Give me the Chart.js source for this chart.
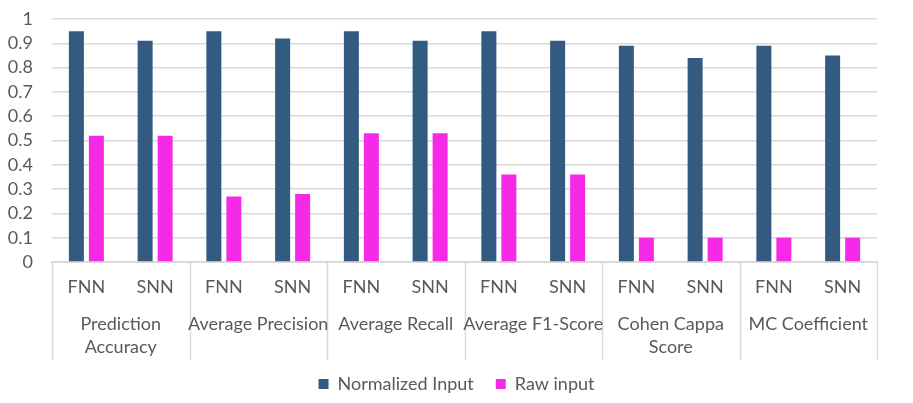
<!DOCTYPE html>
<html>
<head>
<meta charset="utf-8">
<script src="https://cdn.jsdelivr.net/npm/chart.js@4.4.1/dist/chart.umd.min.js"></script>
<style>
  html, body { margin: 0; padding: 0; background: #fff; }
  #wrap { width: 913px; height: 403px; }
</style>
</head>
<body>
<div id="wrap"><canvas id="chart" width="913" height="403"></canvas></div>
<script>
// grupos de métricas (cada uma com FNN e SNN)
const groupLabels = [
  ['Prediction', 'Accuracy'],
  ['Average Precision'],
  ['Average Recall'],
  ['Average F1-Score'],
  ['Cohen Cappa', 'Score'],
  ['MC Coefficient']
];
const models = ['FNN', 'SNN'];
const normalizedInput = [0.95, 0.91, 0.95, 0.92, 0.95, 0.91, 0.95, 0.91, 0.89, 0.84, 0.89, 0.85];
const rawInput = [0.52, 0.52, 0.27, 0.28, 0.53, 0.53, 0.36, 0.36, 0.10, 0.10, 0.10, 0.10];
const yTicks = [0, 0.1, 0.2, 0.3, 0.4, 0.5, 0.6, 0.7, 0.8, 0.9, 1];

const labels = [];
groupLabels.forEach(() => models.forEach(m => labels.push(m)));

const FONT = 'Lato';
const SIZE = 18;
const TEXT = '#595959';
const GRID = '#d9d9d9';

// desenha rótulos dos grupos e separadores verticais abaixo do eixo
const groupAxis = {
  id: 'groupAxis',
  afterDraw(chart) {
    const { ctx, chartArea } = chart;
    const x = chart.scales.x;
    const n = groupLabels.length;
    const per = models.length;
    const top = chartArea.bottom;
    const bottom = 360;
    ctx.save();
    ctx.strokeStyle = GRID;
    ctx.lineWidth = 1.5;
    for (let g = 0; g <= n; g++) {
      const px = Math.round(chartArea.left + g * chartArea.width / n) + 0.5;
      ctx.beginPath();
      ctx.moveTo(px, top);
      ctx.lineTo(px, bottom);
      ctx.stroke();
    }
    ctx.fillStyle = TEXT;
    ctx.font = SIZE + 'px ' + FONT;
    ctx.textAlign = 'center';
    ctx.textBaseline = 'middle';
    groupLabels.forEach((lines, g) => {
      const cx = (x.getPixelForTick(g * per) + x.getPixelForTick(g * per + per - 1)) / 2;
      lines.forEach((t, i) => ctx.fillText(t, cx, 324 + i * 23));
    });
    ctx.restore();
  }
};

new Chart(document.getElementById('chart'), {
  type: 'bar',
  data: {
    labels,
    datasets: [
      { label: 'Normalized Input', data: normalizedInput, backgroundColor: '#335a80',
        categoryPercentage: 0.582, barPercentage: 0.75 },
      { label: 'Raw input', data: rawInput, backgroundColor: '#f62ae6',
        categoryPercentage: 0.582, barPercentage: 0.75 }
    ]
  },
  options: {
    responsive: false,
    animation: false,
    layout: { padding: { top: 19, right: 0, left: 0, bottom: 0 } },
    plugins: {
      title: { display: false },
      tooltip: { enabled: false },
      legend: {
        position: 'bottom',
        labels: {
          color: TEXT, font: { family: FONT, size: SIZE },
          boxWidth: 10, boxHeight: 10, padding: 22
        }
      }
    },
    scales: {
      x: {
        grid: { display: false },
        border: { display: true, color: GRID, width: 2 },
        ticks: { color: TEXT, font: { family: FONT, size: SIZE }, padding: 6, maxRotation: 0 },
        afterFit(scale) { scale.height = 91; }
      },
      y: {
        min: 0, max: 1,
        afterBuildTicks(scale) { scale.ticks = yTicks.map(v => ({ value: v })); },
        grid: { color: GRID, lineWidth: 1.5, drawTicks: false },
        border: { display: false },
        ticks: { color: TEXT, font: { family: FONT, size: SIZE }, padding: 19, autoSkip: false,
                 callback: v => String(+v.toFixed(1)) },
        afterFit(scale) {
          scale.width = 52;
          scale.paddingTop = 0;
          scale.paddingBottom = 0;
        }
      },
      // espaço vazio à direita do gráfico (margem)
      yRight: {
        position: 'right',
        grid: { display: false, drawOnChartArea: false },
        border: { display: false },
        ticks: { display: false },
        afterFit(scale) { scale.width = 36; }
      }
    }
  },
  plugins: [groupAxis]
});
</script>
</body>
</html>
